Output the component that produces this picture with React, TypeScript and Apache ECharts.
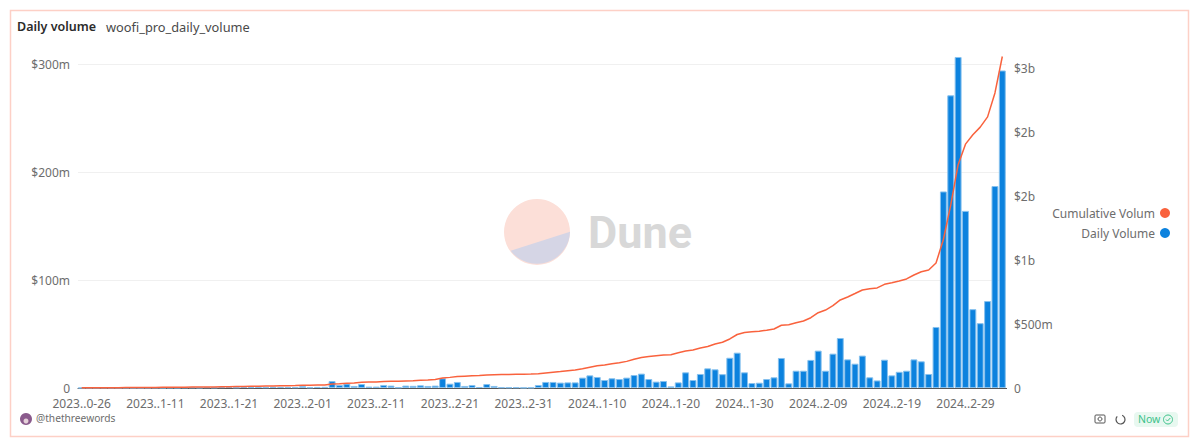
import React, { useEffect, useRef } from "react";
import * as echarts from "echarts";

const tickLabels = ["2023..0-26","2023..1-11","2023..1-21","2023..2-01","2023..2-11","2023..2-21","2023..2-31","2024..1-10","2024..1-20","2024..1-30","2024..2-09","2024..2-19","2024..2-29"];

const dailyVolume = [
  0.1,0.1,0.1,0.2,0.1,0.1,0.2,0.1,0.1,0.2,
  0.3,0.2,0.4,0.3,0.5,0.6,0.4,0.7,0.5,0.8,
  0.9,0.6,1,0.8,1.2,0.7,1.1,1,0.8,0.7,
  1.7,0.6,1,1.1,6.4,2.8,4,1.9,3.7,1.3,
  1.3,2.8,2.2,0.6,2.2,2,2.5,1.9,2.2,9,
  4,5.6,1.9,2.8,0.9,3.7,1.9,0.6,0.5,0.6,
  0.3,0.4,2.8,5.6,5.6,5,5.2,5.2,9.6,11.7,
  10.2,7.4,9,8.3,9.6,12,13.3,8.3,5.9,6.5,
  1.5,5.2,14.5,7.4,13,18.2,17.3,12.8,28,32.7,
  14.5,4.6,4.9,8.3,9.9,27.8,4.3,16,16,26,
  34.6,16,31.8,46.3,26.5,22.5,30,9.9,7,26.2,
  11.7,15,16,26.5,24.7,13,56.5,182,271,306.5,
  164,73,60,80.5,187,294,
];

const cumulativeVolume = [
  1,1,2,2,2,2,3,3,3,4,
  4,5,5,6,6,7,7,8,8,9,
  10,11,12,13,14,15,16,17,18,19,
  21,22,23,24,31,34,38,40,44,46,
  47,50,52,53,55,57,60,62,66,78,
  83,89,92,95,97,102,104,105,106,107,
  108,109,111,117,123,128,134,140,150,162,
  173,180,190,198,208,225,238,246,252,258,
  260,275,289,297,312,324,344,357,383,418,
  434,439,444,452,461,490,494,510,523,549,
  588,609,643,688,711,738,766,776,782,810,
  822,836,852,883,908,922,977,1160,1430,1745,
  1905,1978,2038,2118,2305,2590,
];

const categories = dailyVolume.map((_, i) => (i % 10 === 0 ? tickLabels[i / 10] : ""));

const LABEL = "#6d6d6d";
const FONT = "'Noto Sans', sans-serif";

export default function App() {
  const ref = useRef<HTMLDivElement>(null);
  useEffect(() => {
    if (!ref.current) return;
    echarts.graphic.registerShape(
      "duneLower",
      echarts.graphic.extendPath("M510.7 250.7 A33 33 0 0 0 570 231.7 Z", {})
    );
    const chart = echarts.init(ref.current, undefined, { renderer: "svg" });
    chart.setOption({
      animation: false,
      backgroundColor: "#ffffff",
      textStyle: { fontFamily: FONT },
      grid: { left: 78, right: 194, top: 64, bottom: 58, containLabel: false },
      legend: {
        orient: "vertical",
        right: 25,
        top: 202,
        align: "right",
        icon: "circle",
        itemWidth: 10,
        itemHeight: 10,
        itemGap: 8,
        selectedMode: false,
        itemStyle: { borderWidth: 0 },
        data: ["Cumulative Volum", "Daily Volume"],
        textStyle: { color: LABEL, fontSize: 12, fontFamily: FONT },
      },
      xAxis: {
        type: "category",
        data: categories,
        axisLine: { show: true, lineStyle: { color: "#555", width: 1 } },
        axisTick: { show: true, interval: 0, length: 1, lineStyle: { color: "#555" } },
        axisLabel: { interval: 9, color: LABEL, fontSize: 12, margin: 9, fontFamily: FONT, hideOverlap: false },
      },
      yAxis: [
        {
          type: "value",
          min: 0,
          max: 300,
          interval: 100,
          axisLine: { show: false },
          axisTick: { show: false },
          splitLine: { show: true, lineStyle: { color: "#f0f0f0", width: 1 } },
          axisLabel: {
            color: LABEL,
            fontSize: 12,
            margin: 8,
            fontFamily: FONT,
            formatter: (v: number) => (v === 0 ? "0" : `$${v}m`),
          },
        },
        {
          type: "value",
          min: 0,
          max: 2531.25,
          interval: 500,
          position: "right",
          axisLine: { show: false },
          axisTick: { show: false },
          splitLine: { show: false },
          axisLabel: {
            color: LABEL,
            fontSize: 12,
            margin: 8,
            fontFamily: FONT,
            showMaxLabel: false,
            formatter: (v: number) =>
              v === 0 ? "0" : v < 1000 ? `$${v}m` : `$${Math.round(v / 1000)}b`,
          },
        },
      ],
      series: [
        {
          name: "Daily Volume",
          type: "bar",
          yAxisIndex: 0,
          data: dailyVolume,
          clip: false,
          barCategoryGap: "6%",
          z: 2,
          itemStyle: { color: "#0c82de", borderColor: "#86c1ee", borderWidth: 1 },
        },
        {
          name: "Cumulative Volum",
          type: "line",
          yAxisIndex: 1,
          data: cumulativeVolume,
          clip: false,
          showSymbol: false,
          symbol: "none",
          z: 3,
          itemStyle: { color: "#f9623d" },
          lineStyle: { color: "#f9623d", width: 1.5 },
        },
      ],
      graphic: [
        { type: "rect", z: -10, shape: { x: 10.5, y: 10.5, width: 1178, height: 426 }, style: { fill: "none", stroke: "#fdd0c6", lineWidth: 1.5 } },
        { type: "circle", z: -5, shape: { cx: 537, cy: 232, r: 33 }, style: { fill: "#fcdfd8" } },
        { type: "duneLower", z: -4, style: { fill: "#d5d5e5" } },
        { type: "text", z: -4, x: 588, y: 209.5, style: { text: "Dune", fill: "#d8d8d8", font: "bold 45px Roboto, sans-serif" } },
        { type: "text", x: 17, y: 20, style: { text: "Daily volume", fill: "#2b2b2b", font: `600 12.5px ${FONT}` } },
        { type: "text", x: 106, y: 20, style: { text: "woofi_pro_daily_volume", fill: "#4a4a4a", font: `12.8px ${FONT}` } },
        { type: "circle", shape: { cx: 26, cy: 419, r: 6 }, style: { fill: "#8a5a8c" } },
        { type: "circle", shape: { cx: 26, cy: 421, r: 2.5 }, style: { fill: "#e6d2da" } },
        { type: "text", x: 36, y: 413, style: { text: "@thethreewords", fill: LABEL, font: `10.2px ${FONT}` } },
        { type: "rect", shape: { x: 1095, y: 415, width: 10, height: 8, r: 1 }, style: { fill: "none", stroke: "#555", lineWidth: 1 } },
        { type: "circle", shape: { cx: 1100, cy: 419, r: 2 }, style: { fill: "none", stroke: "#555", lineWidth: 1 } },
        { type: "arc", shape: { cx: 1120.5, cy: 419.5, r: 4.5, startAngle: -1.2, endAngle: 3.9 }, style: { fill: "none", stroke: "#555", lineWidth: 1.2 } },
        { type: "rect", shape: { x: 1134, y: 412, width: 44, height: 15, r: 4 }, style: { fill: "#e8f8f0" } },
        { type: "text", x: 1138, y: 413, style: { text: "Now", fill: "#3cc28a", font: `10.5px ${FONT}` } },
        { type: "circle", shape: { cx: 1168, cy: 419.5, r: 4.5 }, style: { fill: "none", stroke: "#3cc28a", lineWidth: 1 } },
        { type: "polyline", shape: { points: [[1166, 419.5], [1167.5, 421], [1170.3, 418]] }, style: { fill: "none", stroke: "#3cc28a", lineWidth: 1 } },
      ],
    });
    return () => chart.dispose();
  }, []);
  return <div ref={ref} style={{ position: "absolute", left: 0, top: 0, width: 1200, height: 446 }} />;
}
